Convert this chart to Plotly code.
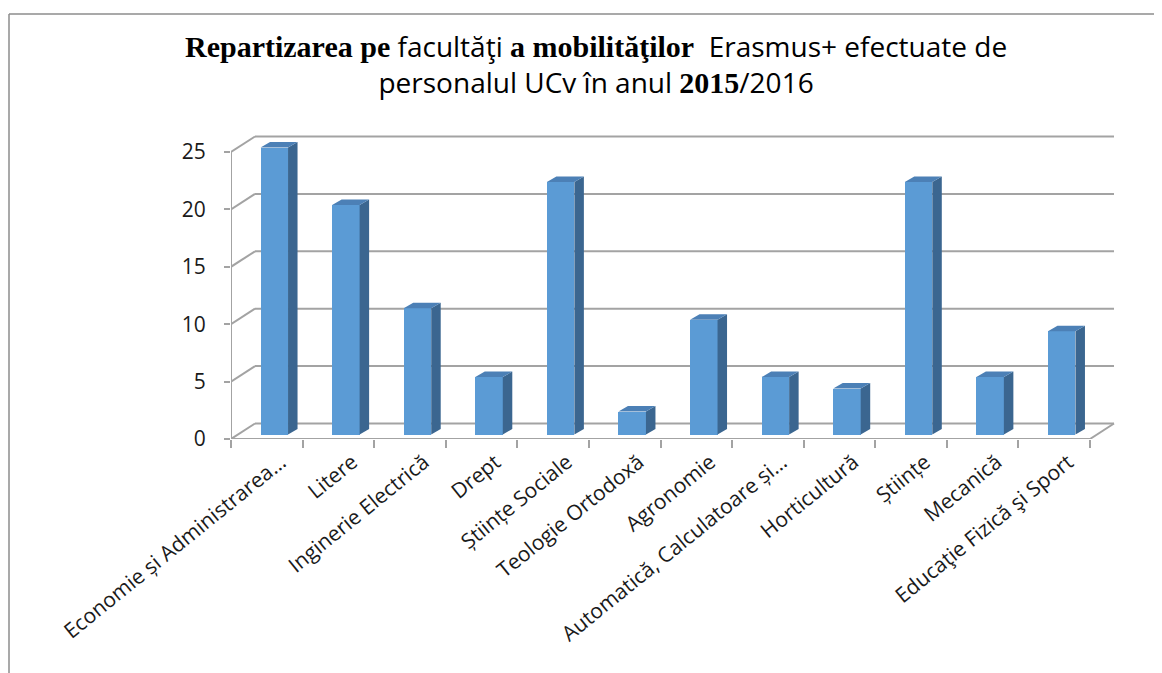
import plotly.graph_objects as go

# data
categories = [
    "Economie și Administrarea…", "Litere", "Inginerie Electrică", "Drept",
    "Științe Sociale", "Teologie Ortodoxă", "Agronomie",
    "Automatică, Calculatoare și…", "Horticultură", "Științe", "Mecanică",
    "Educaţie Fizică şi Sport",
]
mobilities = [25, 20, 11, 5, 22, 2, 10, 5, 4, 22, 5, 9]
y_ticks = [0, 5, 10, 15, 20, 25]

W, H = 1162, 673
PAGE = 8                       # default body margin of the html page
# plot area in screen pixels
L, R, T, B = 231, 1116, 128, 439
n = len(categories)
px_x = (1090 - L) / n          # pixels per category
px_y = (B - 152) / 25          # pixels per unit

x_lo = -0.5
x_hi = x_lo + (R - L) / px_x
y_lo = 0
y_hi = (B - T) / px_y

# 3d depth offsets (pixels -> data units)
DX, DY = 24 / px_x, 15.5 / px_y        # wall depth
BX, BY = 7.5 / px_x, 4.5 / px_y        # bar front face offset
SX, SY = 9.5 / px_x, 5.5 / px_y        # bar thickness
BW = 27.5 / px_x                       # bar width
LBL = 14 / px_x                        # label shift

GRID = "#a3a3a3"
FRONT = "#5b9bd5"
TOP = "#4c80b6"
SIDE = "#3b6690"

fig = go.Figure()

# bars front faces
xs = [i + BX for i in range(n)]
fig.add_trace(go.Bar(
    x=xs, y=mobilities, base=BY, width=BW,
    marker=dict(color=FRONT, line=dict(width=0)),
    hoverinfo="skip", showlegend=False,
))

# side and top faces
side_x, side_y, top_x, top_y = [], [], [], []
for i, v in enumerate(mobilities):
    x1 = i + BX + BW / 2
    x0 = i + BX - BW / 2
    y1 = BY + v
    side_x += [x1, x1 + SX, x1 + SX, x1, x1, None]
    side_y += [BY, BY + SY, y1 + SY, y1, BY, None]
    top_x += [x0, x1, x1 + SX, x0 + SX, x0, None]
    top_y += [y1, y1, y1 + SY, y1 + SY, y1, None]

fig.add_trace(go.Scatter(x=side_x, y=side_y, mode="lines", fill="toself",
                         fillcolor=SIDE, line=dict(width=0, color=SIDE),
                         hoverinfo="skip", showlegend=False))
fig.add_trace(go.Scatter(x=top_x, y=top_y, mode="lines", fill="toself",
                         fillcolor=TOP, line=dict(width=0, color=TOP),
                         hoverinfo="skip", showlegend=False))

shapes = []
line = dict(color=GRID, width=2)
# back wall gridlines and side wall diagonals
for v in y_ticks:
    shapes.append(dict(type="line", xref="x", yref="y", layer="below",
                       x0=x_lo + DX, x1=n - 0.5 + DX, y0=v + DY, y1=v + DY, line=line))
    shapes.append(dict(type="line", xref="x", yref="y", layer="below",
                       x0=x_lo, x1=x_lo + DX, y0=v, y1=v + DY, line=line))
# front axis, floor front edge, floor right edge
shapes.append(dict(type="line", xref="x", yref="y", x0=x_lo, x1=x_lo, y0=0, y1=25, line=line))
shapes.append(dict(type="line", xref="x", yref="y", x0=x_lo, x1=n - 0.5, y0=0, y1=0, line=line))
shapes.append(dict(type="line", xref="x", yref="y", x0=n - 0.5, x1=n - 0.5 + DX, y0=0, y1=DY, line=line))


def paper_x(p):
    return (p - L) / (R - L)


def paper_y(p):
    return (B - p) / (B - T)


# outer chart frame
frame = dict(color="#8c8c8c", width=1.5)
shapes.append(dict(type="line", xref="paper", yref="paper",
                   x0=paper_x(9), x1=paper_x(9), y0=paper_y(14), y1=paper_y(700), line=frame))
shapes.append(dict(type="line", xref="paper", yref="paper",
                   x0=paper_x(9), x1=paper_x(1200), y0=paper_y(14), y1=paper_y(14), line=frame))

SERIF = "font-family:'Liberation Serif';font-weight:bold;font-size:30px"
title = (
    f"<span style=\"{SERIF}\">Repartizarea pe</span> facultăţi "
    f"<span style=\"{SERIF}\">a mobilităţilor</span>\u00a0 Erasmus+ efectuate de<br>"
    f"personalul UCv în anul <span style=\"{SERIF}\">2015</span>/2016"
)

fig.update_layout(
    width=W, height=H,
    margin=dict(l=L - PAGE, r=W - R + PAGE, t=T - PAGE, b=H - B + PAGE),
    plot_bgcolor="white", paper_bgcolor="white",
    font=dict(family="Open Sans", color="#1a1a1a"),
    shapes=shapes,
    bargap=0,
    annotations=[dict(
        text=title, xref="paper", yref="paper",
        x=paper_x(596), y=paper_y(64), xanchor="center", yanchor="middle",
        showarrow=False, font=dict(family="Open Sans", size=28, color="black"),
    )],
    xaxis=dict(
        range=[x_lo, x_hi], tickvals=[i + LBL for i in range(n)], ticktext=categories,
        tickangle=-39, ticks="", showgrid=False, zeroline=False, showline=False,
        ticklabelstandoff=6,
        tickfont=dict(size=21, color="#1a1a1a"), fixedrange=True,
    ),
    xaxis2=dict(
        range=[x_lo, x_hi], overlaying="x", anchor="y", side="bottom",
        tickvals=[i - 0.5 for i in range(n + 1)], showticklabels=False,
        ticks="outside", ticklen=8, tickwidth=2, tickcolor=GRID,
        showgrid=False, zeroline=False, showline=False,
    ),
    yaxis=dict(
        range=[y_lo, y_hi], tickvals=y_ticks, ticks="outside", ticklen=6,
        tickwidth=2, tickcolor=GRID, showgrid=False, zeroline=False,
        showline=False, ticklabelstandoff=14,
        tickfont=dict(size=21, color="#1a1a1a"), fixedrange=True,
    ),
)
# invisible trace so the boundary ticks of xaxis2 are drawn
fig.add_trace(go.Scatter(x=[x_lo], y=[0], xaxis="x2", mode="markers",
                         marker=dict(opacity=0), hoverinfo="skip", showlegend=False))

fig.write_html("out.html")
